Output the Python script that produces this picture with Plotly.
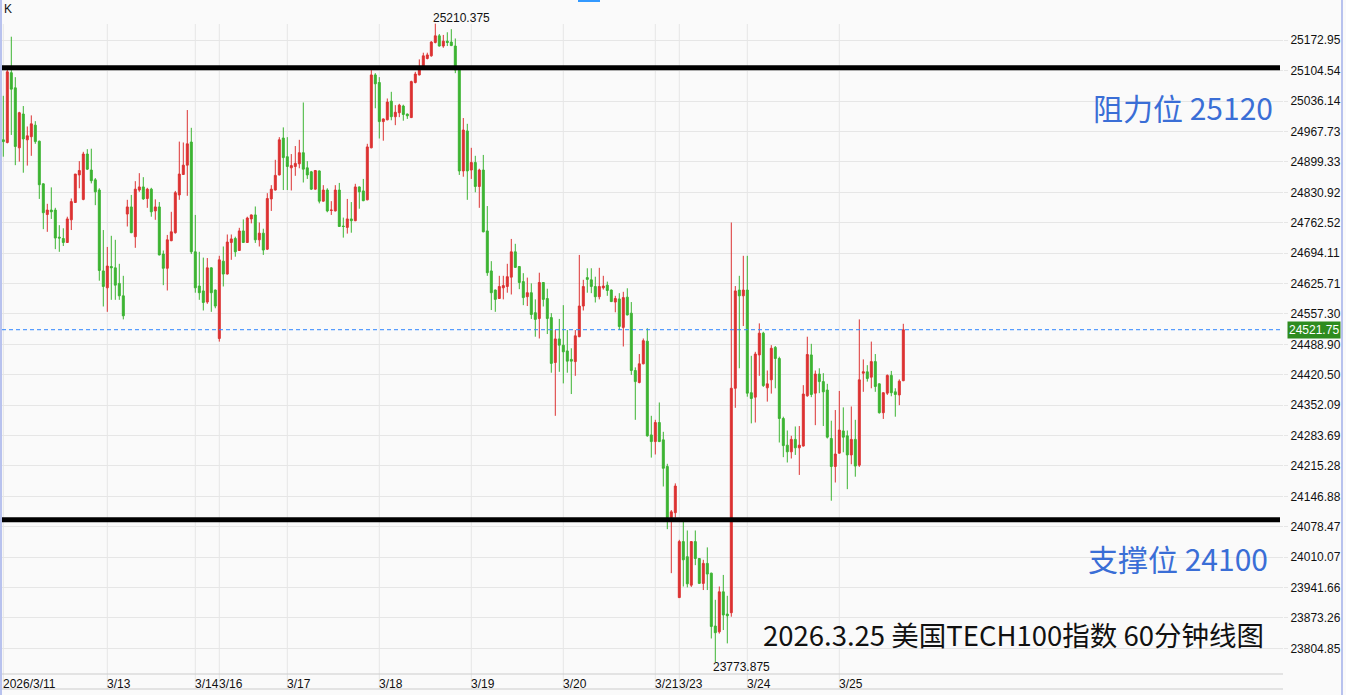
import plotly.graph_objects as go

# ---- data ----
opens = [24949,24943,25100,25066,24931,25007,24949,24956,24982,24946,24850,24781,24791,24791,24730,24727,24718,24769,24808,24870,
         24815,24917,24881,24859,24836,24654,24616,24664,24661,24626,24598,24782,24798,24731,24836,24843,24817,24838,24789,24798,
         24692,24660,24722,24740,24825,24871,24892,24944,24697,24620,24609,24584,24661,24611,24502,24676,24647,24718,24727,24700,
         24744,24718,24771,24780,24724,24739,24703,24816,24836,24870,24953,24911,24886,24889,24895,24920,24886,24877,24838,24879,
         24811,24836,24790,24789,24836,24755,24752,24771,24767,24843,24834,24814,24931,25095,25078,24990,24994,25036,25001,25010,
         25025,25007,24999,25078,25095,25115,25132,25138,25168,25183,25160,25171,25169,25160,25106,24879,24969,24881,24898,24844,
         24881,24744,24654,24611,24592,24616,24619,24640,24697,24664,24630,24596,24605,24560,24547,24628,24592,24549,24448,24501,
         24487,24474,24455,24450,24506,24575,24639,24634,24619,24596,24616,24622,24611,24584,24591,24527,24595,24559,24430,24403,
         24445,24496,24285,24270,24313,24274,24214,24099,24110,23919,24045,24011,23947,24045,24007,23951,23996,23974,23855,23842,
         23932,23882,23885,24390,24611,24598,24611,24380,24370,24465,24514,24391,24409,24482,24457,24322,24262,24247,24275,24256,
         24260,24373,24465,24379,24422,24405,24386,24277,24214,24244,24294,24283,24240,24275,24217,24424,24427,24415,24450,24400,
         24335,24379,24419,24382,24375,24407]
highs = [25048,25108,25181,25090,25012,25025,24979,25004,24991,24947,24851,24805,24842,24796,24757,24750,24776,24817,24872,24901,
         24922,24928,24929,24863,24840,24746,24708,24733,24724,24670,24643,24814,24825,24856,24874,24865,24841,24841,24815,24809,
         24700,24735,24787,24834,24945,24943,25016,24976,24780,24697,24684,24683,24662,24612,24688,24709,24736,24736,24731,24751,
         24770,24776,24781,24799,24763,24749,24829,24847,24904,24955,24977,24955,24917,24935,24949,25033,24901,24879,24881,24880,
         24847,24840,24811,24847,24852,24774,24816,24809,24850,24844,24861,24940,25106,25099,25090,24997,25042,25057,25027,25030,
         25028,25008,25082,25102,25130,25145,25145,25171,25210.375,25187,25185,25191,25198,25177,25108,24998,24985,24931,24913,24884,
         24915,24800,24676,24612,24643,24643,24670,24726,24715,24665,24649,24639,24626,24590,24650,24629,24614,24559,24521,24546,
         24577,24521,24480,24521,24690,24634,24660,24660,24641,24661,24643,24630,24612,24598,24604,24607,24615,24584,24437,24467,
         24502,24525,24328,24319,24358,24292,24220,24116,24176,24049,24090,24070,24046,24070,24008,24004,24032,23975,23914,23944,
         23970,23923,24763,24620,24643,24688,24688,24463,24472,24536,24517,24430,24487,24485,24461,24326,24295,24283,24304,24305,
         24397,24506,24490,24430,24435,24424,24400,24317,24341,24384,24347,24295,24349,24319,24545,24455,24442,24495,24467,24401,
         24381,24421,24429,24390,24410,24535]
lows = [24911,24941,24960,24892,24900,24875,24891,24913,24940,24816,24748,24742,24771,24703,24697,24710,24717,24746,24807,24840,
        24813,24881,24851,24802,24632,24574,24562,24589,24589,24589,24545,24754,24739,24706,24832,24814,24796,24776,24769,24689,
        24622,24610,24721,24738,24814,24870,24823,24692,24605,24589,24565,24580,24562,24570,24495,24619,24646,24679,24686,24699,
        24717,24717,24761,24717,24709,24690,24701,24789,24835,24869,24836,24836,24835,24868,24885,24853,24861,24836,24837,24806,
        24810,24786,24780,24788,24753,24729,24738,24740,24766,24794,24811,24813,24930,25020,24952,24947,24993,24993,24982,25000,
        24992,24996,24998,25076,25094,25114,25130,25136,25166,25159,25156,25160,25160,25099,24870,24866,24814,24861,24831,24796,
        24741,24643,24566,24562,24591,24590,24605,24601,24661,24613,24577,24575,24546,24506,24502,24574,24512,24425,24328,24427,
        24401,24425,24377,24418,24505,24565,24605,24604,24583,24590,24612,24598,24584,24561,24521,24484,24554,24420,24319,24401,
        24444,24281,24234,24241,24269,24169,24073,23974,24099,23918,23944,23942,23943,23992,23950,23936,23936,23827,23773.875,23838,
        23846,23816,23876,24346,24435,24530,24371,24311,24313,24418,24393,24360,24378,24390,24268,24235,24223,24232,24240,24195,
        24259,24371,24370,24307,24379,24305,24277,24137,24178,24243,24246,24163,24219,24191,24213,24382,24405,24390,24382,24333,
        24321,24375,24372,24326,24352,24406]
closes = [24945,25102,25063,24934,25010,24951,24958,24985,24945,24848,24785,24791,24787,24728,24728,24718,24771,24810,24872,24880,
          24917,24883,24857,24832,24655,24619,24665,24661,24622,24598,24553,24798,24740,24838,24843,24816,24838,24787,24798,24690,
          24660,24724,24742,24830,24872,24892,24940,24697,24616,24605,24583,24661,24605,24575,24679,24647,24719,24726,24697,24744,
          24718,24773,24780,24724,24739,24701,24817,24838,24869,24949,24909,24889,24891,24896,24920,24883,24870,24838,24880,24811,
          24836,24789,24791,24836,24754,24754,24771,24767,24843,24832,24812,24933,25095,25075,24990,24996,25034,25001,25011,25027,
          25006,25003,25080,25097,25106,25138,25140,25169,25183,25160,25171,25168,25161,25106,24879,24971,24879,24898,24844,24881,
          24742,24650,24605,24590,24619,24621,24641,24697,24662,24628,24594,24605,24556,24545,24628,24590,24547,24446,24501,24487,
          24472,24451,24451,24508,24575,24619,24635,24619,24596,24619,24620,24610,24585,24592,24529,24594,24555,24430,24405,24445,
          24497,24283,24270,24313,24270,24210,24099,24112,24170,24045,24004,23950,24045,24007,23951,23996,23972,23854,23840,23932,
          23880,23878,24390,24609,24598,24611,24379,24367,24467,24514,24396,24400,24480,24457,24322,24261,24247,24275,24256,24262,
          24377,24466,24376,24422,24405,24382,24280,24214,24242,24296,24280,24240,24275,24215,24409,24427,24412,24450,24394,24335,
          24380,24419,24380,24376,24406,24521.75]

date_tick_idx = [0, 26, 48, 54, 71, 94, 117, 140, 163, 169, 186, 209]
date_tick_text = ['2026/3/11', '3/13', '3/14', '3/16', '3/17', '3/18', '3/19', '3/20', '3/21', '3/23', '3/24', '3/25']

price_tick_vals = [25172.95, 25104.54, 25036.14, 24967.73, 24899.33, 24830.92, 24762.52, 24694.11, 24625.71, 24557.30,
                   24488.90, 24420.50, 24352.09, 24283.69, 24215.28, 24146.88, 24078.47, 24010.07, 23941.66, 23873.26, 23804.85]
price_tick_text = ['25172.95', '25104.54', '25036.14', '24967.73', '24899.33', '24830.92', '24762.52', '24694.11', '24625.71',
                   '24557.30', '24488.90', '24420.50', '24352.09', '24283.69', '24215.28', '24146.88', '24078.47', '24010.07',
                   '23941.66', '23873.26', '23804.85']

resistance_level = 25111
support_level = 24094
last_price = 24521.75
max_high = 25210.375
min_low = 23773.875

resistance_text = '阻力位 25120'
support_text = '支撑位 24100'
title_text = '2026.3.25 美国TECH100指数 60分钟线图'

# ---- styling ----
RED = '#DC3232'
GREEN = '#3CB432'
GRID = '#E6E6E6'
BG = '#FAFAFA'
BLUE_TXT = '#3A6ED6'
PLOT_H = 674.0
PLOT_W = 1281.0

idx = list(range(len(opens)))

fig = go.Figure()
fig.add_trace(go.Candlestick(
    x=idx, open=opens, high=highs, low=lows, close=closes,
    increasing=dict(line=dict(color=RED, width=1), fillcolor=RED),
    decreasing=dict(line=dict(color=GREEN, width=1), fillcolor=GREEN),
    whiskerwidth=0, showlegend=False, hoverinfo='skip'))

shapes = []
# vertical grid lines at date ticks
for t in date_tick_idx:
    shapes.append(dict(type='line', xref='x', yref='paper', x0=t, x1=t,
                       y0=-15 / PLOT_H, y1=(PLOT_H - 24) / PLOT_H,
                       line=dict(color=GRID, width=1), layer='below'))
# x-axis band borders
for yy in (0, -15 / PLOT_H):
    shapes.append(dict(type='line', xref='paper', yref='paper', x0=0, x1=1, y0=yy, y1=yy,
                       line=dict(color='#CCCCCC', width=1)))
# current price dashed line
shapes.append(dict(type='line', xref='paper', yref='y', x0=0, x1=1, y0=last_price, y1=last_price,
                   line=dict(color='#2F86FF', width=1, dash='4px,3px')))
# resistance / support
for lv in (resistance_level, support_level):
    shapes.append(dict(type='line', xref='paper', yref='y', x0=0, x1=(1280 - 2) / PLOT_W, y0=lv, y1=lv,
                       line=dict(color='black', width=5)))
# frame borders
shapes.append(dict(type='line', xref='paper', yref='paper', x0=-1 / PLOT_W, x1=-1 / PLOT_W, y0=-21 / PLOT_H, y1=1,
                   line=dict(color='#B8C2EE', width=2)))
shapes.append(dict(type='line', xref='paper', yref='paper', x0=1340 / PLOT_W, x1=1340 / PLOT_W, y0=-21 / PLOT_H, y1=1,
                   line=dict(color='#B8C2EE', width=2)))
shapes.append(dict(type='rect', xref='paper', yref='paper', x0=576 / PLOT_W, x1=598 / PLOT_W, y0=1 - 2 / PLOT_H, y1=1,
                   line=dict(width=0), fillcolor='#3399FF'))

annotations = []
for t, s in zip(date_tick_idx, date_tick_text):
    annotations.append(dict(x=t, y=0, xref='x', yref='paper', text=s, showarrow=False,
                            xanchor='left', yanchor='top', xshift=-2, yshift=-1,
                            font=dict(family='Liberation Sans, Arial', size=12, color='#111111')))
annotations += [
    dict(x=0, y=1, xref='paper', yref='paper', text='K', showarrow=False, xanchor='left', yanchor='top',
         font=dict(family='Liberation Sans, Arial', size=12, color='#111111')),
    dict(x=108, y=max_high, xref='x', yref='y', text=f'{max_high}', showarrow=False, xanchor='left',
         yanchor='bottom', xshift=-4, yshift=-3, font=dict(family='Liberation Sans, Arial', size=12, color='#111111')),
    dict(x=178, y=min_low, xref='x', yref='y', text=f'{min_low}', showarrow=False, xanchor='left',
         yanchor='middle', xshift=-4, yshift=-5, font=dict(family='Liberation Sans, Arial', size=12, color='#111111')),
    dict(x=1, y=last_price, xref='paper', yref='y', text=f'{last_price:.2f}', showarrow=False, xanchor='left',
         yanchor='middle', xshift=4, bgcolor='#2E8C1F', borderpad=1,
         font=dict(family='Liberation Sans, Arial', size=12, color='white')),
    dict(x=(1275 - 2) / PLOT_W, y=1 - 107 / PLOT_H, xref='paper', yref='paper', text=resistance_text,
         showarrow=False, xanchor='right', yanchor='middle',
         font=dict(family='Noto Sans CJK SC', size=30, color=BLUE_TXT)),
    dict(x=(1270 - 2) / PLOT_W, y=1 - 558 / PLOT_H, xref='paper', yref='paper', text=support_text,
         showarrow=False, xanchor='right', yanchor='middle',
         font=dict(family='Noto Sans CJK SC', size=30, color=BLUE_TXT)),
    dict(x=(1266 - 2) / PLOT_W, y=1 - 634 / PLOT_H, xref='paper', yref='paper', text=title_text,
         showarrow=False, xanchor='right', yanchor='middle',
         font=dict(family='Noto Sans CJK SC', size=27.5, color='#111111')),
]

y_top = 25263.6
y_bot = y_top - 2.25 * PLOT_H

fig.update_layout(
    width=1346, height=695,
    margin=dict(l=2, r=63, t=0, b=21),
    paper_bgcolor=BG, plot_bgcolor=BG,
    xaxis=dict(range=[-0.325, -0.325 + PLOT_W / 4.0], showticklabels=False, showgrid=False, zeroline=False,
               rangeslider=dict(visible=False), showline=False, ticks=''),
    yaxis=dict(range=[y_bot, y_top], side='right', tickmode='array', tickvals=price_tick_vals,
               ticktext=price_tick_text, showgrid=True, gridcolor=GRID, gridwidth=1, zeroline=False,
               ticks='outside', ticklen=4, tickcolor=GRID, showline=False,
               tickfont=dict(family='Liberation Sans, Arial', size=12, color='#111111')),
    shapes=shapes, annotations=annotations,
    font=dict(family='Liberation Sans, Arial'),
)

fig.write_html('out.html', config={'displayModeBar': False},
               post_script="document.body.style.margin='0';document.body.style.background='#FAFAFA';")
